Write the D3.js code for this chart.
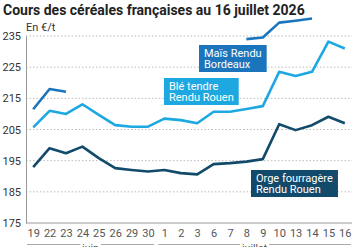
<!DOCTYPE html>
<html>
<head>
<meta charset="utf-8">
<script src="https://cdn.jsdelivr.net/npm/d3@7"></script>
<style>
  body { margin: 0; background: #fff; }
  svg { font-family: Roboto, sans-serif; display: block; }
</style>
</head>
<body>
<div id="container"></div>
<script>
const width = 358;
const height = 247;
const margin = { top: 36, bottom: 24, left: 26, right: 6 };

// jours de cotation
const days = ["19", "22", "23", "24", "25", "26", "29", "30", "1", "2", "3", "6", "7", "8", "9", "10", "13", "14", "15", "16"];
const months = [
    { name: "juin", from: "19", to: "30" },
    { name: "juillet", from: "1", to: "16" }
];
const yTicks = [175, 185, 195, 205, 215, 225, 235];

// €/t, null = pas de cotation
const mais = [211.5, 218, 217.1, null, null, null, null, null, null, null, null, null, null, 234, 234.5, 239.3, 239.9, 240.6, null, null];
const ble = [205.7, 211, 210, 213.1, 209.7, 206.4, 205.9, 205.9, 208.5, 208, 207, 210.7, 210.7, 211.6, 212.5, 223.5, 222.2, 223.5, 233.2, 231];
const orge = [192.9, 199, 197.4, 199.5, 195.8, 192.6, 192, 191.5, 192, 191, 190.6, 193.9, 194.2, 194.7, 195.5, 206.7, 204.8, 206.4, 209.1, 207];

const series = [
    { name: ["Maïs Rendu", "Bordeaux"], values: mais, color: "#1b75bc", box: [199, 45] },
    { name: ["Blé tendre", "Rendu Rouen"], values: ble, color: "#1da8e2", box: [164, 78] },
    { name: ["Orge fourragère", "Rendu Rouen"], values: orge, color: "#114a6b", box: [251, 170] }
];

const svg = d3.select("#container")
    .append('svg')
    .attr('width', width)
    .attr('height', height)
    .attr('viewBox', [0, 0, width, height]);

const x = d3.scalePoint()
    .domain(days)
    .range([margin.left - 1, width - margin.right + 1])
    .padding(0.5);

const y = d3.scaleLinear()
    .domain([175, 235])
    .range([height - margin.bottom, margin.top]);

// titre
svg.append('text')
    .attr('x', 3)
    .attr('y', 15)
    .attr('font-size', 14)
    .attr('font-weight', 700)
    .attr('fill', '#222')
    .text("Cours des céréales françaises au 16 juillet 2026");

svg.append('text')
    .attr('x', margin.left)
    .attr('y', 31)
    .attr('font-size', 11)
    .attr('fill', '#333')
    .text("En €/t");

// grille
svg.append('g')
    .selectAll('line')
    .data(yTicks.filter(d => d > 175))
    .join('line')
    .attr('x1', margin.left)
    .attr('x2', width - margin.right)
    .attr('y1', d => y(d))
    .attr('y2', d => y(d))
    .attr('stroke', '#bbb')
    .attr('stroke-dasharray', '1.5,2');

// axe y
const yAxis = svg.append('g')
    .attr('transform', `translate(${margin.left},0)`)
    .call(d3.axisLeft(y).tickValues(yTicks).tickSize(0).tickPadding(5));
yAxis.select('.domain').attr('stroke', '#999');
yAxis.selectAll('text').attr('font-size', 11).attr('fill', '#333').attr('font-family', 'Roboto, sans-serif');

// axe x
const xAxis = svg.append('g')
    .attr('transform', `translate(0,${y(175)})`)
    .call(d3.axisBottom(x).tickSize(0).tickPadding(6));
xAxis.select('.domain').attr('stroke', '#999').attr('d', `M${margin.left},0H${width - margin.right}`);
xAxis.selectAll('text').attr('font-size', 11).attr('fill', '#555').attr('font-family', 'Roboto, sans-serif');

// mois (coupés en bas comme dans l'original)
const step = x.step();
months.forEach(m => {
    const x0 = x(m.from) - step / 2 + 2;
    const x1 = x(m.to) + step / 2 - 2;
    const cx = (x0 + x1) / 2;
    const g = svg.append('g');
    g.append('line')
        .attr('x1', x0).attr('x2', x1)
        .attr('y1', 244.5).attr('y2', 244.5)
        .attr('stroke', '#aaa');
    const t = g.append('text')
        .attr('x', cx)
        .attr('y', 252)
        .attr('text-anchor', 'middle')
        .attr('font-size', 10.5)
        .attr('fill', '#555')
        .text(m.name);
    const w = t.node().getComputedTextLength();
    g.insert('rect', 'text')
        .attr('x', cx - w / 2 - 2)
        .attr('y', 240)
        .attr('width', w + 4)
        .attr('height', 10)
        .attr('fill', '#fff');
});

// courbes
const line = d3.line()
    .defined(d => d != null)
    .x((d, i) => x(days[i]))
    .y(d => y(d));

series.forEach(s => {
    svg.append('path')
        .datum(s.values)
        .attr('d', line)
        .attr('fill', 'none')
        .attr('stroke', s.color)
        .attr('stroke-width', 2.6)
        .attr('stroke-linejoin', 'round');
});

// étiquettes
series.forEach(s => {
    const g = svg.append('g').attr('transform', `translate(${s.box[0]},${s.box[1]})`);
    const t = g.append('text')
        .attr('font-size', 11)
        .attr('fill', '#fff');
    t.selectAll('tspan')
        .data(s.name)
        .join('tspan')
        .attr('x', 5)
        .attr('y', (d, i) => 11.5 + i * 11.5)
        .text(d => d);
    const bb = t.node().getBBox();
    g.insert('rect', 'text')
        .attr('x', 0)
        .attr('y', 0)
        .attr('width', bb.width + 10)
        .attr('height', 27)
        .attr('fill', s.color);
});
</script>
</body>
</html>
